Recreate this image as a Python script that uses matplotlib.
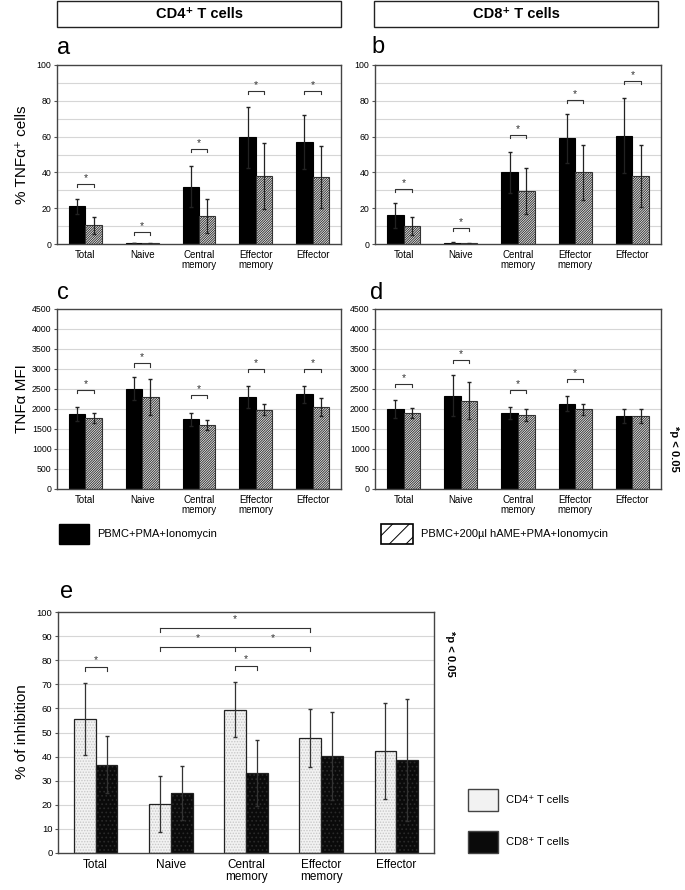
import numpy as np
import matplotlib.pyplot as plt
from matplotlib.patches import Rectangle

plt.rcParams['font.family'] = ['Liberation Sans', 'DejaVu Sans']
plt.rcParams['hatch.linewidth'] = 0.7

# -------------------------------
# Data
# -------------------------------
categorias = ['Total', 'Naive', 'Central\nmemory', 'Effector\nmemory', 'Effector']

# a: % TNFa+ CD4
a_pma = [21, 0.5, 32, 59.5, 57]
a_pma_err = [4, 0.2, 11.5, 17, 15]
a_hame = [10.5, 0.3, 15.5, 38, 37.5]
a_hame_err = [4.8, 0.2, 9.5, 18.5, 17.5]
a_sig = [33.5, 6.7, 53, 85.5, 85.5]

# b: % TNFa+ CD8
b_pma = [16, 0.7, 40, 59, 60.5]
b_pma_err = [7, 0.2, 11.5, 13.5, 21]
b_hame = [10, 0.3, 29.5, 40, 38]
b_hame_err = [5, 0.2, 13, 15.5, 17.5]
b_sig = [30.7, 8.9, 60.8, 80.5, 91]

# c: TNFa MFI CD4
c_pma = [1880, 2510, 1740, 2300, 2370]
c_pma_err = [170, 290, 170, 280, 210]
c_hame = [1770, 2300, 1600, 1980, 2050]
c_hame_err = [120, 450, 120, 140, 220]
c_sig = [2470, 3140, 2350, 3010, 3010]

# d: TNFa MFI CD8
d_pma = [2000, 2330, 1900, 2130, 1830]
d_pma_err = [220, 510, 145, 185, 170]
d_hame = [1900, 2210, 1850, 1990, 1820]
d_hame_err = [120, 460, 150, 140, 170]
d_sig = [2625, 3230, 2480, 2750, None]

# e: % of inhibition
e_cd4 = [55.5, 20.3, 59.5, 47.7, 42.3]
e_cd4_err = [15, 11.5, 11.5, 12, 20]
e_cd8 = [36.7, 25, 33.3, 40.3, 38.6]
e_cd8_err = [12, 11.3, 13.7, 18.4, 25.4]
e_sig_pares = [(0, 77.2), (2, 77.6)]
e_sig_grupos = [([1, 2, 3], 85.5), ([1, 3], 93.4)]

W, H = 685, 890
fig = plt.figure(figsize=(W / 100, H / 100), dpi=100)


def caixa(x0, y0, x1, y1):
    """Converte pixels (origem no topo) em [left, bottom, w, h]."""
    return [x0 / W, 1 - y1 / H, (x1 - x0) / W, (y1 - y0) / H]


def estilo(ax, ymax, passo, grade, fs_y, fs_x):
    x = np.arange(len(categorias))
    ax.set_xlim(-0.5, len(categorias) - 0.5)
    ax.set_ylim(0, ymax)
    ax.set_yticks(np.arange(0, ymax + 1, passo))
    for g in np.arange(grade, ymax, grade):
        ax.axhline(g, color='#d6d6d6', lw=0.8, zorder=0)
    ax.set_xticks(x)
    ax.set_xticklabels(categorias, fontsize=fs_x, linespacing=1.1)
    ax.tick_params(axis='y', labelsize=fs_y, length=2, pad=2, color='#555555')
    ax.tick_params(axis='x', length=0, pad=4)
    for s in ax.spines.values():
        s.set_color('#444444')
        s.set_linewidth(1.0)


def painel(ax, pma, pma_err, hame, hame_err, sig, ymax, passo, grade):
    x = np.arange(len(categorias))
    w = 0.29
    ax.bar(x - w / 2, pma, w, color='black', edgecolor='black', lw=0.8, zorder=2,
           yerr=pma_err, ecolor='#222222', capsize=1.5, error_kw=dict(lw=0.9))
    ax.bar(x + w / 2, hame, w, color='white', edgecolor='#333333', hatch='/' * 14,
           lw=0.8, zorder=2, yerr=hame_err, ecolor='#222222', capsize=1.5,
           error_kw=dict(lw=0.9))
    d = ymax * 0.018
    for i, h in enumerate(sig):
        if h is None:
            continue
        x0, x1 = i - w / 2, i + w / 2
        ax.plot([x0, x0, x1, x1], [h - d, h, h, h - d], color='#333333', lw=0.8, zorder=3)
        ax.text(i, h + d * 0.3, '*', ha='center', va='bottom', fontsize=7.5, color='#333333')
    estilo(ax, ymax, passo, grade, 6.3, 7)


# -------------------------------
# Headers
# -------------------------------
for (x0, x1), txt in [((57, 341), 'CD4⁺ T cells'), ((374, 658), 'CD8⁺ T cells')]:
    fig.patches.append(Rectangle((x0 / W, 1 - 27 / H), (x1 - x0) / W, 26 / H,
                                 transform=fig.transFigure, fill=False,
                                 edgecolor='#222222', lw=1.0))
    fig.text((x0 + x1) / 2 / W, 1 - 14 / H, txt, ha='center', va='center',
             fontsize=10.5, fontweight='bold')

# -------------------------------
# Panels a-d
# -------------------------------
ax_a = fig.add_axes(caixa(57, 65, 341, 244))
painel(ax_a, a_pma, a_pma_err, a_hame, a_hame_err, a_sig, 100, 20, 10)
ax_b = fig.add_axes(caixa(375, 65, 661, 244))
painel(ax_b, b_pma, b_pma_err, b_hame, b_hame_err, b_sig, 100, 20, 10)
ax_c = fig.add_axes(caixa(57, 309, 341, 489))
painel(ax_c, c_pma, c_pma_err, c_hame, c_hame_err, c_sig, 4500, 500, 500)
ax_d = fig.add_axes(caixa(375, 309, 661, 489))
painel(ax_d, d_pma, d_pma_err, d_hame, d_hame_err, d_sig, 4500, 500, 500)

for letra, px, py in [('a', 57, 54), ('b', 371, 53), ('c', 57, 299), ('d', 370, 299), ('e', 60, 598)]:
    fig.text(px / W, 1 - py / H, letra, fontsize=17, ha='left', va='baseline')

fig.text(22 / W, 1 - 155 / H, '% TNFα⁺ cells', rotation=90, ha='center', va='center', fontsize=11)
fig.text(22 / W, 1 - 399 / H, 'TNFα MFI', rotation=90, ha='center', va='center', fontsize=11)
fig.text(22 / W, 1 - 732 / H, '% of inhibition', rotation=90, ha='center', va='center', fontsize=11)

# legend c/d
fig.patches.append(Rectangle((59 / W, 1 - 544 / H), 30 / W, 20 / H, transform=fig.transFigure,
                             facecolor='black', edgecolor='black'))
fig.text(97 / W, 1 - 534 / H, 'PBMC+PMA+Ionomycin', fontsize=8, va='center')
fig.patches.append(Rectangle((381 / W, 1 - 544 / H), 32 / W, 20 / H, transform=fig.transFigure,
                             facecolor='white', edgecolor='black', hatch='//', lw=1.2))
fig.text(421 / W, 1 - 534 / H, 'PBMC+200µl hAME+PMA+Ionomycin', fontsize=8, va='center')

fig.text(674 / W, 1 - 449 / H, '*p < 0.05', rotation=-90, ha='center', va='center',
         fontsize=8, fontweight='bold')

# -------------------------------
# Panel e
# -------------------------------
ax_e = fig.add_axes(caixa(58, 612, 434, 853))
x = np.arange(len(categorias))
w = 0.29
ax_e.bar(x - w / 2, e_cd4, w, color='#f2f2f2', edgecolor='#c8c8c8', hatch='......', lw=0, zorder=2)
ax_e.bar(x - w / 2, e_cd4, w, fill=False, edgecolor='#222222', lw=0.9, zorder=2,
         yerr=e_cd4_err, ecolor='#333333', capsize=1.5, error_kw=dict(lw=0.9))
ax_e.bar(x + w / 2, e_cd8, w, color='#0a0a0a', edgecolor='#2a2a2a', hatch='....', lw=0, zorder=2)
ax_e.bar(x + w / 2, e_cd8, w, fill=False, edgecolor='#222222', lw=0.9, zorder=2,
         yerr=e_cd8_err, ecolor='#333333', capsize=1.5, error_kw=dict(lw=0.9))

d = 1.8
for i, h in e_sig_pares:
    x0, x1 = i - w / 2, i + w / 2
    ax_e.plot([x0, x0, x1, x1], [h - d, h, h, h - d], color='#333333', lw=0.8, zorder=3)
    ax_e.text(i, h + 0.8, '*', ha='center', va='bottom', fontsize=7.5, color='#333333')
for grupo, h in e_sig_grupos:
    xs = [g - w / 2 for g in grupo]
    ax_e.plot([xs[0], xs[-1]], [h, h], color='#333333', lw=0.8, zorder=3)
    for xx in xs:
        ax_e.plot([xx, xx], [h, h - d], color='#333333', lw=0.8, zorder=3)
    for xa, xb in zip(xs[:-1], xs[1:]):
        ax_e.text((xa + xb) / 2, h + 1.5, '*', ha='center', va='bottom', fontsize=7.5, color='#333333')
estilo(ax_e, 100, 10, 10, 6.8, 8.5)

fig.text(450 / W, 1 - 654 / H, '*p < 0.05', rotation=-90, ha='center', va='center',
         fontsize=8, fontweight='bold')

# legend e
fig.patches.append(Rectangle((468 / W, 1 - 811 / H), 30 / W, 22 / H, transform=fig.transFigure,
                             facecolor='#f2f2f2', edgecolor='#444444', lw=1.0))
fig.text(506 / W, 1 - 800 / H, 'CD4⁺ T cells', fontsize=8, va='center')
fig.patches.append(Rectangle((468 / W, 1 - 853 / H), 30 / W, 22 / H, transform=fig.transFigure,
                             facecolor='#0a0a0a', edgecolor='#444444', lw=1.0))
fig.text(506 / W, 1 - 842 / H, 'CD8⁺ T cells', fontsize=8, va='center')

fig.savefig('out.png', dpi=100)
